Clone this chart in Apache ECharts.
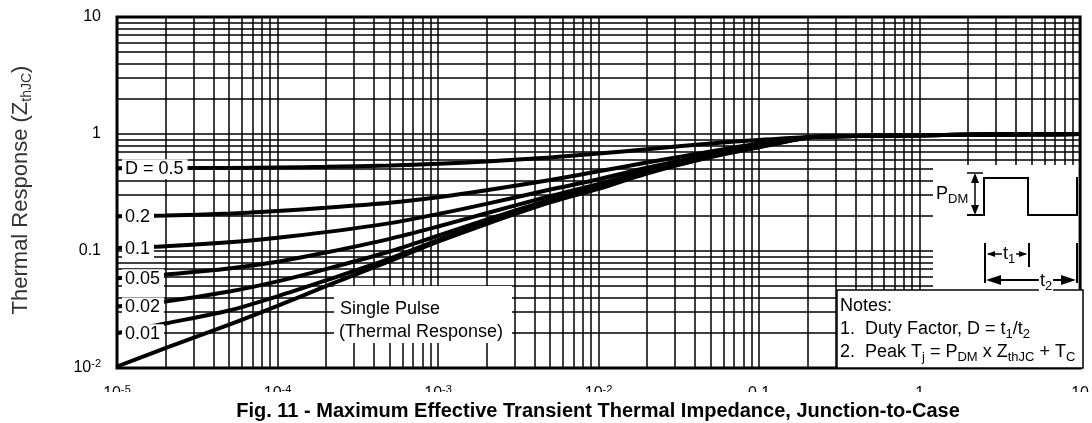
<!DOCTYPE html>
<html>
<head>
<meta charset="utf-8">
<script src="https://cdn.jsdelivr.net/npm/echarts@6/dist/echarts.min.js"></script>
<style>
html, body { margin: 0; padding: 0; background: #fff; }
#chart { width: 1092px; height: 423px; }
</style>
</head>
<body>
<div id="chart"></div>
<script>
// square wave pulse duration t1 (s)
var pulseTimes = [1e-5, 2e-5, 5e-5, 1e-4, 2e-4, 5e-4, 1e-3, 2e-3, 5e-3, 1e-2, 2e-2, 5e-2, 0.1, 0.2, 0.3, 0.5, 1, 2, 5, 10];
// normalized Z_thJC
var zD050 = [0.51, 0.51, 0.513, 0.518, 0.524, 0.538, 0.556, 0.582, 0.63, 0.68, 0.74, 0.83, 0.89, 0.945, 0.955, 0.965, 0.975, 0.985, 0.995, 1.0];
var zD020 = [0.198, 0.201, 0.209, 0.22, 0.234, 0.258, 0.288, 0.33, 0.405, 0.48, 0.57, 0.71, 0.83, 0.94, 0.955, 0.965, 0.975, 0.985, 0.995, 1.0];
var zD010 = [0.106, 0.11, 0.119, 0.13, 0.145, 0.173, 0.207, 0.253, 0.335, 0.41, 0.515, 0.67, 0.80, 0.935, 0.955, 0.965, 0.975, 0.985, 0.995, 1.0];
var zD005 = [0.0585, 0.063, 0.071, 0.081, 0.097, 0.127, 0.162, 0.21, 0.295, 0.375, 0.49, 0.655, 0.785, 0.935, 0.955, 0.965, 0.975, 0.985, 0.995, 1.0];
var zD002 = [0.0336, 0.037, 0.045, 0.055, 0.07, 0.099, 0.135, 0.185, 0.275, 0.355, 0.475, 0.645, 0.78, 0.935, 0.955, 0.965, 0.975, 0.985, 0.995, 1.0];
var zD001 = [0.0198, 0.024, 0.031, 0.041, 0.056, 0.086, 0.124, 0.176, 0.266, 0.347, 0.467, 0.64, 0.775, 0.935, 0.955, 0.965, 0.975, 0.985, 0.995, 1.0];
var zSingle = [0.0103, 0.0148, 0.0235, 0.034, 0.05, 0.082, 0.12, 0.17, 0.26, 0.34, 0.46, 0.635, 0.77, 0.93, 0.955, 0.965, 0.975, 0.985, 0.995, 1.0];

var dutyCurves = [zD050, zD020, zD010, zD005, zD002, zD001];
var dutyLabels = ['D = 0.5', '0.2', '0.1', '0.05', '0.02', '0.01'];

// tick labels per decade
var xTickLabels = ['10{s|-5}', '10{s|-4}', '10{s|-3}', '10{s|-2}', '0.1', '1', '10'];
var yTickLabels = ['10{s|-2}', '0.1', '1', '10'];
var gridSteps = [1, 2, 3, 4, 5, 6, 7, 8, 9];

var X_MIN = 1e-5, X_MAX = 10, Y_MIN = 0.01, Y_MAX = 10;
var FONT = '"Liberation Sans", Arial, Helvetica, sans-serif';

function pairs(xs, ys) {
    var out = [];
    for (var i = 0; i < xs.length; i++) out.push([xs[i], ys[i]]);
    return out;
}

function decadeLabel(list, minExp) {
    return function (v) {
        var e = Math.log10(v);
        var r = Math.round(e);
        if (Math.abs(e - r) > 1e-6) return '';
        return list[r - minExp] || '';
    };
}

// grid lines at 1..9 of each decade
var gridLines = [];
for (var e = -5; e <= 0; e++) {
    gridSteps.forEach(function (m) {
        if (e === -5 && m === 1) return;
        var v = m * Math.pow(10, e);
        gridLines.push({coords: [[v, Y_MIN], [v, Y_MAX]]});
    });
}
for (var e2 = -2; e2 <= 0; e2++) {
    gridSteps.forEach(function (m) {
        if (e2 === -2 && m === 1) return;
        var v = m * Math.pow(10, e2);
        gridLines.push({coords: [[X_MIN, v], [X_MAX, v]]});
    });
}

var chart = echarts.init(document.getElementById('chart'));

var series = [{
    type: 'lines',
    coordinateSystem: 'cartesian2d',
    silent: true,
    z: 1,
    symbol: ['none', 'none'],
    lineStyle: {color: '#000', width: 1.5, opacity: 1, curveness: 0},
    data: gridLines
}];
dutyCurves.concat([zSingle]).forEach(function (vals) {
    series.push({
        type: 'line',
        data: pairs(pulseTimes, vals),
        showSymbol: false,
        smooth: 0.3,
        silent: true,
        z: 5,
        lineStyle: {color: '#000', width: 4}
    });
});

var option = {
    animation: false,
    grid: {
        left: 117, right: 9, top: 17, bottom: 55,
        show: true, borderColor: '#000', borderWidth: 3,
        backgroundColor: 'transparent', z: 20
    },
    xAxis: {
        type: 'log', logBase: 10, min: X_MIN, max: X_MAX, splitNumber: 6,
        axisLine: {show: false}, axisTick: {show: false}, splitLine: {show: false},
        axisLabel: {
            margin: 16, color: '#000', fontSize: 16, fontFamily: FONT, lineHeight: 20,
            formatter: decadeLabel(xTickLabels, -5),
            rich: {s: {fontSize: 11, fontFamily: FONT, color: '#000', verticalAlign: 'top', lineHeight: 20}}
        }
    },
    yAxis: {
        type: 'log', logBase: 10, min: Y_MIN, max: Y_MAX, splitNumber: 3,
        axisLine: {show: false}, axisTick: {show: false}, splitLine: {show: false},
        axisLabel: {
            margin: 16, color: '#000', fontSize: 16, fontFamily: FONT, lineHeight: 20,
            formatter: decadeLabel(yTickLabels, -2),
            rich: {s: {fontSize: 11, fontFamily: FONT, color: '#000', verticalAlign: 'top', lineHeight: 20}}
        }
    },
    series: series
};
chart.setOption(option);

// annotations
var subRich = {
    sub: {fontSize: 13, fontFamily: FONT, color: '#000', verticalAlign: 'bottom', lineHeight: 23}
};
function txt(x, y, text, extra) {
    var st = {
        text: text, fill: '#000', fontSize: 18, fontFamily: FONT,
        align: 'left', verticalAlign: 'middle', textAlign: 'left', textVerticalAlign: 'middle',
        rich: subRich
    };
    for (var k in (extra || {})) st[k] = extra[k];
    if (st.align) st.textAlign = st.align;
    return {type: 'text', x: x, y: y, z: 60, silent: true, style: st};
}
function line(x1, y1, x2, y2, w, z) {
    return {type: 'line', z: z || 60, silent: true, shape: {x1: x1, y1: y1, x2: x2, y2: y2},
        style: {stroke: '#000', lineWidth: w || 2}};
}
function poly(pts, z) {
    return {type: 'polygon', z: z || 61, silent: true, shape: {points: pts}, style: {fill: '#000'}};
}

var g = [];
// white areas: inset and single pulse caption
g.push({type: 'rect', z: 3, silent: true, shape: {x: 933, y: 165, width: 149, height: 126}, style: {fill: '#fff'}});
g.push({type: 'rect', z: 3, silent: true, shape: {x: 334, y: 286, width: 178, height: 57}, style: {fill: '#fff'}});
g.push(txt(340, 309, 'Single Pulse'));
g.push(txt(339, 332, '(Thermal Response)'));

// duty cycle labels at curve starts
dutyCurves.forEach(function (vals, i) {
    var p = chart.convertToPixel({gridIndex: 0}, [pulseTimes[0], vals[0]]);
    g.push(txt(122, p[1] + 1, dutyLabels[i], {backgroundColor: '#fff', padding: [1, 4, 1, 3]}));
});

// notes box
g.push({type: 'rect', z: 50, silent: true, shape: {x: 837, y: 290, width: 246, height: 78},
    style: {fill: '#fff', stroke: '#000', lineWidth: 1.5}});
g.push(txt(840, 306, 'Notes:'));
g.push(txt(840, 329, '1.  Duty Factor, D = t{sub|1}/t{sub|2}'));
g.push(txt(840, 352, '2.  Peak T{sub|j} = P{sub|DM} x Z{sub|thJC} + T{sub|C}'));

// pulse waveform
g.push({type: 'polyline', z: 60, silent: true,
    shape: {points: [[967, 215], [984, 215], [984, 178], [1028, 178], [1028, 215], [1077, 215], [1077, 177]]},
    style: {stroke: '#000', lineWidth: 2, fill: null}});
g.push(line(967, 173, 983, 173, 1.5));
g.push(line(975, 176, 975, 212, 1.5));
g.push(poly([[975, 173], [971, 183], [979, 183]]));
g.push(poly([[975, 215], [971, 205], [979, 205]]));
g.push(txt(936, 194, 'P{sub|DM}'));

// t1 / t2 markers
g.push(line(985, 243, 985, 283, 2));
g.push(line(1029, 243, 1029, 267, 2));
g.push(line(1077, 243, 1077, 283, 2));
g.push(line(988, 254, 1026, 254, 1.5));
g.push(poly([[987, 254], [995, 251], [995, 257]]));
g.push(poly([[1027, 254], [1019, 251], [1019, 257]]));
g.push(txt(1009, 254, 't{sub|1}', {align: 'center', backgroundColor: '#fff', padding: [0, 1, 0, 1], z: 62}));
g.push(line(990, 280, 1072, 280, 2));
g.push(poly([[986, 280], [1001, 275], [1001, 285]]));
g.push(poly([[1076, 280], [1061, 275], [1061, 285]]));
g.push(txt(1046, 281, 't{sub|2}', {align: 'center', backgroundColor: '#fff', padding: [0, 1, 0, 1], z: 62}));

// y axis title
g.push({type: 'text', x: 21, y: 190, rotation: Math.PI / 2, z: 60, silent: true,
    style: {text: 'Thermal Response (Z{sub|thJC})', fill: '#333', fontSize: 22, fontFamily: FONT,
        align: 'center', verticalAlign: 'middle', textAlign: 'center', textVerticalAlign: 'middle',
        rich: {sub: {fontSize: 14, fontFamily: FONT, color: '#333', verticalAlign: 'bottom', lineHeight: 27}}}});

// caption with white band over the lower half of the tick labels
g.push({type: 'rect', z: 100, silent: true, shape: {x: 0, y: 392, width: 1092, height: 31}, style: {fill: '#fff'}});
g.push({type: 'text', x: 598, y: 411, z: 101, silent: true,
    style: {text: 'Fig. 11 - Maximum Effective Transient Thermal Impedance, Junction-to-Case',
        fill: '#000', fontSize: 20, fontWeight: 'bold', fontFamily: FONT,
        align: 'center', verticalAlign: 'middle', textAlign: 'center', textVerticalAlign: 'middle'}});

chart.setOption({graphic: g});
</script>
</body>
</html>
